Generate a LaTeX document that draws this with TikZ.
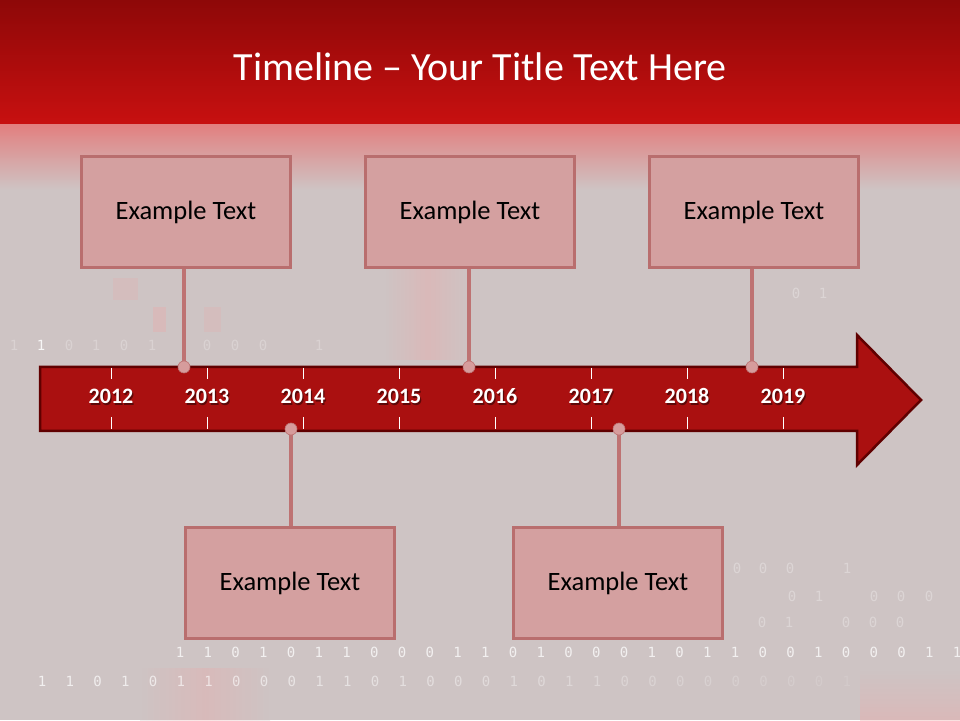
\documentclass[tikz,border=0pt]{standalone}
\usepackage{fontspec}
\setmainfont{Carlito}
\newfontfamily\bitfont{DejaVu Sans Mono}
\usepackage{tikz}

\definecolor{slidebg}{RGB}{206,196,196}
\definecolor{glowpink}{RGB}{240,165,165}
\definecolor{bardark}{RGB}{142,8,8}
\definecolor{barlight}{RGB}{200,16,16}
\definecolor{barfade}{RGB}{226,128,128}
\definecolor{arrowred}{RGB}{170,16,16}
\definecolor{arrowedge}{RGB}{96,0,0}
\definecolor{boxfill}{RGB}{212,160,160}
\definecolor{boxedge}{RGB}{185,110,110}
\definecolor{stemcol}{RGB}{190,115,115}
\definecolor{dotfill}{RGB}{214,156,156}

\tikzset{
  eventbox/.style={draw=boxedge,fill=boxfill,line width=3pt,minimum width=209pt,
    minimum height=111pt,inner sep=0pt,font=\fontsize{26.5}{30}\selectfont},
  yearlabel/.style={text=white,font=\bfseries\fontsize{22}{24}\selectfont,inner sep=0pt,anchor=base},
  stem/.style={draw=stemcol,line width=4pt},
  stemdot/.style={circle,fill=dotfill,draw=stemcol,line width=0.6pt,inner sep=0pt,minimum size=12pt},
  bits/.style={text=white,font=\bitfont\fontsize{14}{14}\selectfont,inner sep=0pt},
}

\begin{document}
\begin{tikzpicture}[x=1pt,y=1pt]
\useasboundingbox (0,0) rectangle (960,720);
% background:
\path[fill=slidebg] (0,0) rectangle (960,720);
\path[fill=glowpink,opacity=0.2] (113,442) rectangle (138,420);
\path[fill=glowpink,opacity=0.3] (153,413) rectangle (166,388);
\path[fill=glowpink,opacity=0.2] (204,413) rectangle (221,388);
\shade[left color=slidebg,right color=slidebg,middle color=glowpink,opacity=0.35] (385,450) rectangle (470,360);
\shade[left color=slidebg,right color=slidebg,middle color=glowpink,opacity=0.3] (140,52) rectangle (270,0);
\shade[top color=slidebg,bottom color=glowpink,opacity=0.35] (860,50) rectangle (960,0);
% title bar:
\shade[top color=bardark,bottom color=barlight] (0,720) rectangle (960,595);
\shade[top color=barfade,bottom color=slidebg] (0,595) rectangle (960,530);
\node[text=white,font=\fontsize{40}{48}\selectfont] (title) at (480,653) {Timeline – Your Title Text Here};
% binary digits:
\foreach \b [count=\k from 0] in {1,1,0,1,0,1,1,0,0,0,1,1,0,1,0,0,0,1,0,1,1,0,0,1,0,0,0,1,1}
  \node[bits,opacity=0.75] at (180+27.75*\k,68) {\b};
\foreach \b [count=\k from 0] in {1,1,0,1,0,1,1,0,0,0,1,1,0,1,0,0,0,1,0,1,1,0,0,0,0,0,0,0,0,1}
  \node[bits,opacity=0.75-0.022*\k] at (42+27.75*\k,39) {\b};
\foreach \x/\b in {14/1,69/0,96/1,124/0,152/1,207/0,235/0,263/0,319/1}
  \node[bits,opacity=0.25] at (\x,375) {\b};
\node[bits,opacity=0.85] at (41,375) {1};
\foreach \x/\y/\b in {737/152/0,763/152/0,790/152/0,847/152/1,792/124/0,819/124/1,874/124/0,
    901/124/0,929/124/0,762/98/0,789/98/1,846/98/0,873/98/0,900/98/0,796/427/0,823/427/1}
  \node[bits,opacity=0.3] at (\x,\y) {\b};
% arrow:
\path[draw=arrowedge,fill=arrowred,line width=2.5pt,line join=miter]
  (40,353) -- (857,353) -- (857,385) -- (921,320) -- (857,255) -- (857,289) -- (40,289) -- cycle;
\foreach \yr [count=\i from 0] in {2012,...,2019} {
  \node[yearlabel,text=black,opacity=0.45] at (111+96*\i+1.3,314.7) {\yr};
  \node[yearlabel] (y\yr) at (111+96*\i,316) {\yr};
  \draw[white,line width=1pt] (111+96*\i,352) -- ++(0,-11) (111+96*\i,303) -- ++(0,-12);
}
% events:
\node[eventbox] (top1) at (186,508) {Example Text};
\node[eventbox] (top2) at (470,508) {Example Text};
\node[eventbox] (top3) at (754,508) {Example Text};
\node[eventbox] (bot1) at (290,137) {Example Text};
\node[eventbox] (bot2) at (618,137) {Example Text};
\coordinate (d1) at (184,353);
\coordinate (d2) at (469,353);
\coordinate (d3) at (752,353);
\coordinate (d4) at (291,291);
\coordinate (d5) at (619,291);
\path[stem] (top1.south -| d1) -- (d1);
\path[stem] (top2.south -| d2) -- (d2);
\path[stem] (top3.south -| d3) -- (d3);
\path[stem] (bot1.north -| d4) -- (d4);
\path[stem] (bot2.north -| d5) -- (d5);
\foreach \d in {d1,d2,d3,d4,d5}
  \node[stemdot] at (\d) {};
\end{tikzpicture}
\end{document}
